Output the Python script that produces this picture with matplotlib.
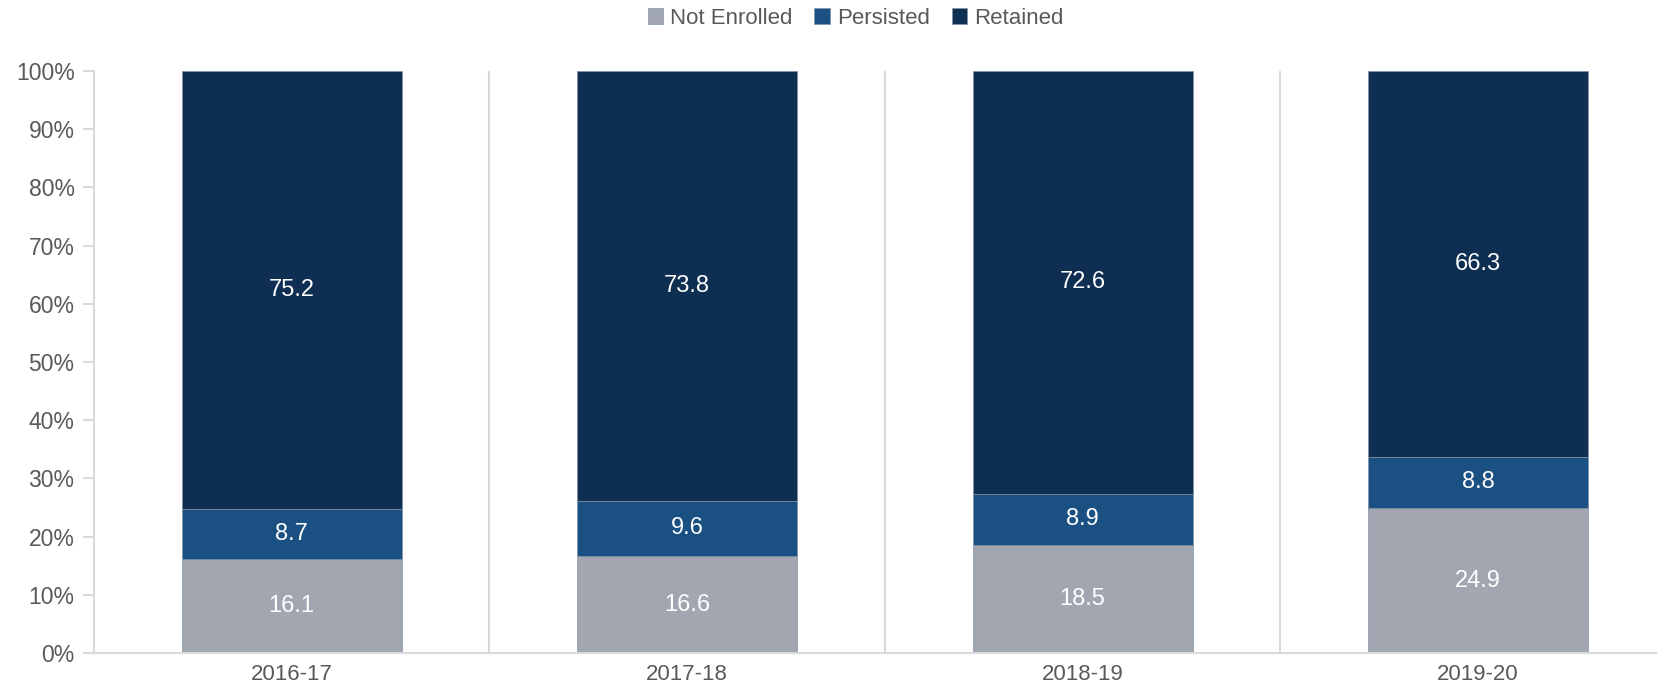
import numpy as np
import matplotlib.pyplot as plt

plt.rcParams['font.family'] = ['Liberation Sans', 'DejaVu Sans']

years = ["2016-17", "2017-18", "2018-19", "2019-20"]
not_enrolled = [16.1, 16.6, 18.5, 24.9]
persisted = [8.7, 9.6, 8.9, 8.8]
retained = [75.2, 73.8, 72.6, 66.3]

series = [
    ("Not Enrolled", not_enrolled, "#a2a6b0"),
    ("Persisted", persisted, "#1b5083"),
    ("Retained", retained, "#0f2f52"),
]

grid_col = "#d9d9d9"
text_col = "#595959"

fig = plt.figure(figsize=(16.58, 6.88), dpi=100)
# the plot area runs a little past the right edge of the figure
ax = fig.add_axes([0.0567, 0.0509, 0.954, 0.8459])

x = np.arange(len(years))
bottom = np.zeros(len(years))
handles = []
for name, vals, col in series:
    vals = np.array(vals)
    bars = ax.bar(x, vals, width=0.556, bottom=bottom, color=col,
                  edgecolor="#8193a8", linewidth=0.5, label=name)
    handles.append(bars)
    for xi, b, v in zip(x, bottom, vals):
        ax.text(xi, b + v / 2, f"{v:.1f}", ha="center", va="center",
                color="white", fontsize=17)
    bottom += vals

# separators between the year groups
for sep in [0.5, 1.5, 2.5]:
    ax.plot([sep, sep], [0, 100], color=grid_col, lw=1.5, zorder=0)

ax.set_xlim(-0.5, 3.5)
ax.set_ylim(0, 100)
ax.set_yticks(np.arange(0, 101, 10))
ax.set_yticklabels([f"{v}%" for v in range(0, 101, 10)])
ax.set_xticks(x)
ax.set_xticklabels(years)

for s in ["top", "right"]:
    ax.spines[s].set_visible(False)
for s in ["left", "bottom"]:
    ax.spines[s].set_color(grid_col)
    ax.spines[s].set_linewidth(1.5)

ax.tick_params(axis="y", colors=grid_col, labelcolor=text_col, labelsize=16.5,
               length=8, width=1.5, pad=6)
ax.tick_params(axis="x", length=0, labelcolor=text_col, labelsize=16, pad=8)

fig.legend(handles=handles, loc="upper center", bbox_to_anchor=(0.516, 1.018),
           ncol=3, frameon=False, fontsize=16, labelcolor=text_col,
           handlelength=0.7, handleheight=0.7, handletextpad=0.3,
           columnspacing=1.0)

fig.savefig("out.png", dpi=100)
